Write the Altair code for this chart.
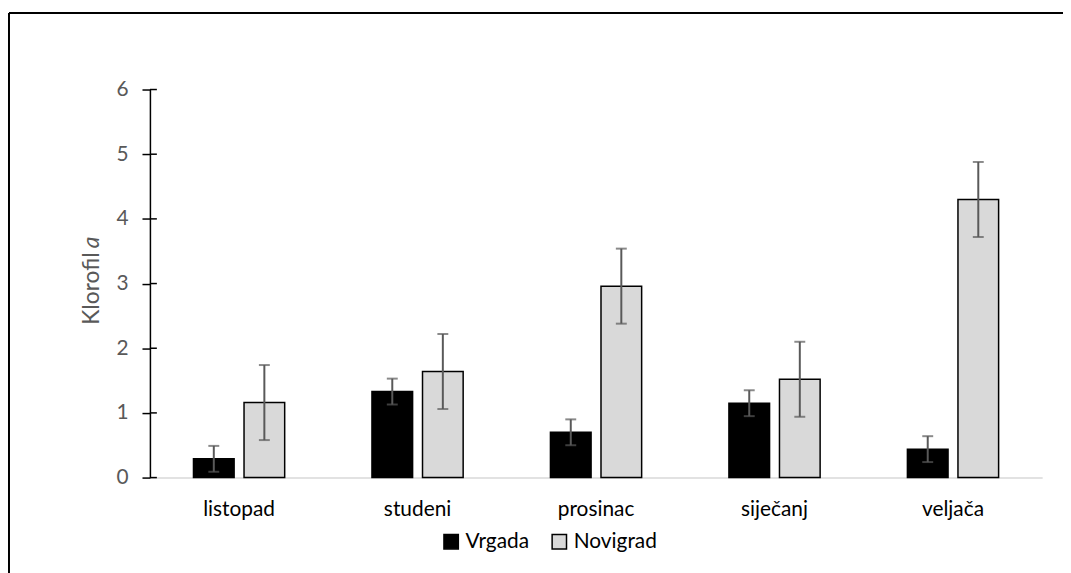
import altair as alt
import pandas as pd

months = ["listopad", "studeni", "prosinac", "siječanj", "veljača"]
series = ["Vrgada", "Novigrad"]
vrgada = [0.29, 1.33, 0.70, 1.15, 0.44]
vrgada_err = [0.20, 0.20, 0.20, 0.20, 0.20]
novigrad = [1.16, 1.64, 2.96, 1.52, 4.30]
novigrad_err = [0.58, 0.58, 0.58, 0.58, 0.58]
y_ticks = [0, 1, 2, 3, 4, 5, 6]

rows = []
for i, m in enumerate(months):
    rows.append({"Month": m, "Series": "Vrgada", "val": vrgada[i],
                 "lo": vrgada[i] - vrgada_err[i], "hi": vrgada[i] + vrgada_err[i]})
    rows.append({"Month": m, "Series": "Novigrad", "val": novigrad[i],
                 "lo": novigrad[i] - novigrad_err[i], "hi": novigrad[i] + novigrad_err[i]})
df = pd.DataFrame(rows)
tick_df = pd.DataFrame({"t": y_ticks})

FONT = "Lato"
W, H = 899, 391

x_enc = alt.X("Month:N", sort=months,
              scale=alt.Scale(paddingInner=0.489, paddingOuter=0.244),
              axis=alt.Axis(title=None, labelAngle=0, labelFont=FONT, labelFontSize=21,
                            labelColor="#000000", labelPadding=21, ticks=False,
                            domainColor="#d9d9d9", domainWidth=1.5))
xo_enc = alt.XOffset("Series:N", sort=series, scale=alt.Scale(paddingInner=0.196))
y_scale = alt.Scale(domain=[0, 6], nice=False)

bars = alt.Chart(df).mark_bar(stroke="#000000", strokeWidth=1.5).encode(
    x=x_enc,
    xOffset=xo_enc,
    y=alt.Y("val:Q", scale=y_scale,
            axis=alt.Axis(title=None, values=y_ticks, format="d", grid=False,
                          labelFont=FONT, labelFontSize=21, labelColor="#595959",
                          labelPadding=14, tickSize=8, tickColor="#000000", tickWidth=1.5,
                          domainColor="#000000", domainWidth=1.5)),
    color=alt.Color("Series:N", sort=series,
                    scale=alt.Scale(domain=series, range=["#000000", "#d9d9d9"]),
                    legend=alt.Legend(title=None, orient="none", direction="horizontal",
                                      legendX=293, legendY=445, symbolType="square",
                                      symbolSize=210, symbolStrokeColor="#000000",
                                      symbolStrokeWidth=1.5, labelFont=FONT,
                                      labelFontSize=21, labelColor="#000000",
                                      labelOffset=4, columnPadding=20)),
)

err = alt.Chart(df).mark_rule(color="#595959", strokeWidth=2).encode(
    x=alt.X("Month:N", sort=months), xOffset=xo_enc,
    y=alt.Y("lo:Q", scale=y_scale), y2="hi:Q")
cap_hi = alt.Chart(df).mark_tick(color="#595959", thickness=2, size=11).encode(
    x=alt.X("Month:N", sort=months), xOffset=xo_enc, y=alt.Y("hi:Q", scale=y_scale))
cap_lo = alt.Chart(df).mark_tick(color="#595959", thickness=2, size=11).encode(
    x=alt.X("Month:N", sort=months), xOffset=xo_enc, y=alt.Y("lo:Q", scale=y_scale))

inner_ticks = alt.Chart(tick_df).mark_rule(color="#000000", strokeWidth=1.5).encode(
    x=alt.value(0), x2=alt.value(7), y=alt.Y("t:Q", scale=y_scale))

title_a = alt.Chart(tick_df.head(1)).mark_text(
    text="Klorofil", angle=270, align="left", baseline="middle",
    font=FONT, fontSize=23, color="#595959").encode(x=alt.value(-58), y=alt.value(237))
title_b = alt.Chart(tick_df.head(1)).mark_text(
    text="a", angle=270, align="left", baseline="middle", fontStyle="italic",
    font=FONT, fontSize=23, color="#595959").encode(x=alt.value(-58), y=alt.value(160))

frame_top = alt.Chart(tick_df.head(1)).mark_rule(color="#000000", strokeWidth=2).encode(
    x=alt.value(-142), x2=alt.value(930), y=alt.value(-77))
frame_left = alt.Chart(tick_df.head(1)).mark_rule(color="#000000", strokeWidth=2).encode(
    x=alt.value(-142), y=alt.value(-77), y2=alt.value(500))

chart = alt.layer(bars, err, cap_hi, cap_lo, inner_ticks, title_a, title_b,
                  frame_top, frame_left).properties(
    width=W, height=H,
    autosize=alt.AutoSizeParams(type="none"),
    padding={"left": 143, "top": 80, "right": 21, "bottom": 94},
).configure_view(stroke="transparent")

chart.save("out.html", embed_options={"renderer": "svg", "actions": False})
